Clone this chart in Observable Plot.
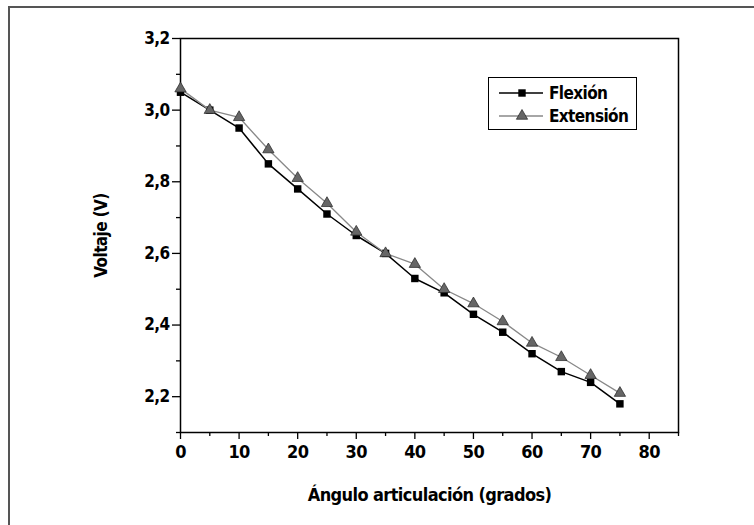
<!DOCTYPE html>
<html>
<head>
<meta charset="utf-8">
<script src="https://cdn.jsdelivr.net/npm/d3@7"></script>
<script src="https://cdn.jsdelivr.net/npm/@observablehq/plot@0.6"></script>
<style>
  html, body { margin: 0; padding: 0; background: #fff; }
  #wrap { position: relative; width: 754px; height: 525px; overflow: hidden;
    font-family: "DejaVu Sans Condensed", "DejaVu Sans", sans-serif; font-stretch: condensed; }
  #border { position: absolute; left: 8px; top: 6px; width: 760px; height: 540px;
    border-top: 2px solid #555; border-left: 2px solid #555; }
  #chart { position: absolute; left: 0; top: 0; }
  #chart svg text { font-family: "DejaVu Sans Condensed", "DejaVu Sans", sans-serif; font-stretch: condensed; font-weight: bold; letter-spacing: -0.6px; }
  #legend { position: absolute; left: 488px; top: 77px; width: 147px; height: 51px;
    border: 1.3px solid #000; background: #fff; }
  #legend .row { position: absolute; left: 0; height: 22px; display: flex; align-items: center; }
  #legend .lbl { font-size: 17px; color: #000; margin-left: 4px; font-stretch: condensed; font-weight: bold; letter-spacing: -0.6px; }
</style>
</head>
<body>
<div id="wrap">
  <div id="border"></div>
  <div id="chart"></div>
  <div id="legend"></div>
</div>
<script>
const angles = [0, 5, 10, 15, 20, 25, 30, 35, 40, 45, 50, 55, 60, 65, 70, 75];
const flexion = [3.05, 3.00, 2.95, 2.85, 2.78, 2.71, 2.65, 2.60, 2.53, 2.49, 2.43, 2.38, 2.32, 2.27, 2.24, 2.18];
const extension = [3.06, 3.00, 2.98, 2.89, 2.81, 2.74, 2.66, 2.60, 2.57, 2.50, 2.46, 2.41, 2.35, 2.31, 2.26, 2.21];
const seriesNames = ["Flexión", "Extensión"];
const xTicks = [0, 10, 20, 30, 40, 50, 60, 70, 80];
const xMinor = [5, 15, 25, 35, 45, 55, 65, 75, 85];
const yTicks = [2.2, 2.4, 2.6, 2.8, 3.0, 3.2];
const yMinor = [2.1, 2.3, 2.5, 2.7, 2.9, 3.1];
const xLabel = "Ángulo articulación (grados)";
const yLabel = "Voltaje (V)";

const flexData = angles.map((a, i) => ({x: a, y: flexion[i]}));
const extData = angles.map((a, i) => ({x: a, y: extension[i]}));
const fmt = d => d.toFixed(1).replace(".", ",");
const font = '"DejaVu Sans Condensed", "DejaVu Sans", sans-serif';

const plot = Plot.plot({
  width: 754,
  height: 525,
  marginLeft: 180,
  marginRight: 76,
  marginTop: 38,
  marginBottom: 93,
  style: {fontFamily: font, fontSize: "17px", color: "#000", background: "transparent"},
  x: {domain: [0, 85]},
  y: {domain: [2.1, 3.2]},
  marks: [
    Plot.axisX(xMinor, {tickSize: 4, tickFormat: () => "", strokeWidth: 1.3, label: null}),
    Plot.axisX(xTicks, {tickSize: 7, tickPadding: 6, strokeWidth: 1.3, label: xLabel,
      labelAnchor: "center", labelArrow: "none", labelOffset: 68, fontSize: 18}),
    Plot.axisY(yMinor, {tickSize: 4, tickFormat: () => "", strokeWidth: 1.3, label: null}),
    Plot.axisY(yTicks, {tickSize: 8, tickPadding: 3, strokeWidth: 1.3, tickFormat: fmt, label: yLabel,
      labelAnchor: "center", labelArrow: "none", labelOffset: 86, fontSize: 17}),
    Plot.frame({stroke: "#000", strokeWidth: 1.5}),
    Plot.line(flexData, {x: "x", y: "y", stroke: "#000", strokeWidth: 1.5}),
    Plot.dot(flexData, {x: "x", y: "y", symbol: "square", r: 4.2, fill: "#000", stroke: "none"}),
    Plot.line(extData, {x: "x", y: "y", stroke: "#888", strokeWidth: 1.3}),
    Plot.dot(extData, {x: "x", y: "y", symbol: "triangle", r: 4.2, fill: "#666", stroke: "#222", strokeWidth: 0.7})
  ]
});
document.getElementById("chart").appendChild(plot);

// legend
const legend = document.getElementById("legend");
const legendStyles = [
  {stroke: "#000", sw: 1.5, sym: d3.symbolSquare, size: 55, fill: "#000", ms: "none"},
  {stroke: "#888", sw: 1.3, sym: d3.symbolTriangle, size: 55, fill: "#666", ms: "#222"}
];
seriesNames.forEach((name, i) => {
  const s = legendStyles[i];
  const row = document.createElement("div");
  row.className = "row";
  row.style.top = (4 + i * 23) + "px";
  const svg = d3.create("svg").attr("width", 56).attr("height", 22);
  svg.append("line").attr("x1", 10).attr("x2", 54).attr("y1", 11).attr("y2", 11)
    .attr("stroke", s.stroke).attr("stroke-width", s.sw);
  svg.append("path").attr("d", d3.symbol(s.sym, s.size)()).attr("transform", "translate(33,11)")
    .attr("fill", s.fill).attr("stroke", s.ms).attr("stroke-width", 0.7);
  row.appendChild(svg.node());
  const lbl = document.createElement("span");
  lbl.className = "lbl";
  lbl.textContent = name;
  row.appendChild(lbl);
  legend.appendChild(row);
});
</script>
</body>
</html>
